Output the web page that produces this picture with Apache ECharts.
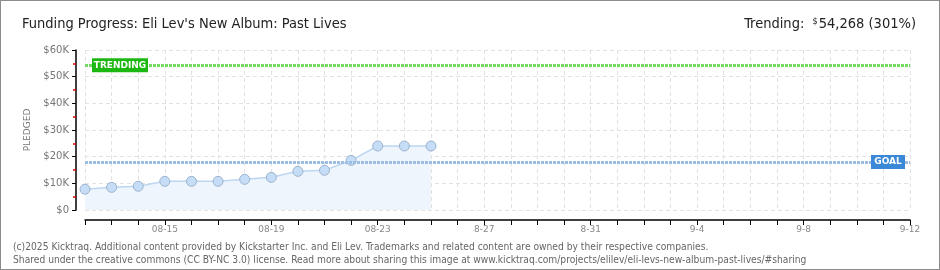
<!DOCTYPE html>
<html>
<head>
<meta charset="utf-8">
<script src="https://cdn.jsdelivr.net/npm/echarts@6/dist/echarts.min.js"></script>
<style>
html,body{margin:0;padding:0;background:#fff;}
#wrap{position:relative;width:940px;height:270px;}
#chart{width:940px;height:270px;}
#frame{position:absolute;left:0;top:0;width:940px;height:270px;box-sizing:border-box;border:1px solid #8c8c8c;pointer-events:none;}
</style>
</head>
<body>
<div id="wrap"><div id="chart"></div><div id="frame"></div></div>
<script>
var categories = ['08-12','08-13','08-14','08-15','08-16','08-17','08-18','08-19','08-20','08-21','08-22','08-23','08-24','08-25','08-26','08-27','08-28','08-29','08-30','08-31','09-01','09-02','09-03','09-04','09-05','09-06','09-07','09-08','09-09','09-10','09-11','09-12'];
var pledged = [7800, 8500, 8900, 10750, 10750, 10750, 11500, 12250, 14500, 14900, 18600, 24000, 24000, 24000];
var tickLabels = {'08-15':'08-15','08-19':'08-19','08-23':'08-23','08-27':'8-27','08-31':'8-31','09-04':'9-4','09-08':'9-8','09-12':'9-12'};
var goal = 18000;
var trending = 54268;

var chart = echarts.init(document.getElementById('chart'));
var FONT = 'DejaVu Sans';
var COND = 'DejaVu Sans Condensed';
chart.setOption({
  animation: false,
  title: [
    {text: "Funding Progress: Eli Lev's New Album: Past Lives", left: 17, top: 12,
     textStyle: {fontFamily: COND, fontSize: 14.5, fontWeight: 'normal', color: '#222'}},
    {text: '{l|Trending:  }{s|$}{l|54,268 (301%)}', right: 19, top: 12,
     textStyle: {fontWeight: 'normal', rich: {
       l: {fontFamily: COND, fontSize: 14.5, fontWeight: 'normal', color: '#222'},
       s: {fontFamily: COND, fontSize: 9, fontWeight: 'normal', color: '#222', verticalAlign: 'top', padding: [0,1,6,0]}
     }}},
    {text: '(c)2025 Kicktraq. Additional content provided by Kickstarter Inc. and Eli Lev. Trademarks and related content are owned by their respective companies.\nShared under the creative commons (CC BY-NC 3.0) license. Read more about sharing this image at www.kicktraq.com/projects/elilev/eli-levs-new-album-past-lives/#sharing',
     left: 8, top: 236,
     textStyle: {fontFamily: COND, fontSize: 10.2, fontWeight: 'normal', color: '#666', lineHeight: 13}}
  ],
  grid: {left: 85, right: 30, top: 50, bottom: 60, containLabel: false},
  xAxis: {
    type: 'category', data: categories, boundaryGap: false, offset: 10,
    axisLine: {onZero: false, lineStyle: {color: '#000', width: 1.5}},
    axisTick: {show: true, interval: 0, length: 5, inside: false, lineStyle: {color: '#000'}},
    axisLabel: {interval: 0, margin: 5, fontFamily: FONT, fontSize: 9, color: '#888',
      formatter: function (v) { return tickLabels[v] || ''; }},
    splitLine: {show: true, interval: 0, lineStyle: {color: '#e2e2e2', type: [4, 3]}}
  },
  yAxis: {
    type: 'value', min: 0, max: 60000, interval: 10000, offset: 9,
    name: 'PLEDGED', nameLocation: 'middle', nameRotate: 90, nameGap: 42,
    nameTextStyle: {fontFamily: FONT, fontSize: 9, color: '#777'},
    axisLine: {show: true, lineStyle: {color: '#000', width: 1.5}},
    axisTick: {show: true, length: 4, lineStyle: {color: '#000'}},
    minorTick: {show: true, splitNumber: 2, length: 3, lineStyle: {color: '#e00000', width: 1.5}},
    axisLabel: {margin: 7, fontFamily: FONT, fontSize: 10, color: '#777',
      formatter: function (v) { return v === 0 ? '$0' : '$' + (v / 1000) + 'K'; }},
    splitLine: {show: true, lineStyle: {color: '#e2e2e2', type: [4, 3]}}
  },
  series: [{
    type: 'line', data: pledged,
    symbol: 'circle', symbolSize: 10,
    lineStyle: {color: '#bcd6f2', width: 1.5},
    itemStyle: {color: '#c6ddf8', borderColor: '#9cb2cc', borderWidth: 1},
    areaStyle: {color: '#eef5fd', opacity: 1},
    markLine: {
      silent: true, symbol: 'none', label: {show: false},
      data: [
        {yAxis: goal, lineStyle: {color: '#9dbde2', width: 3, type: [3, 1]}},
        {yAxis: trending, lineStyle: {color: '#74da63', width: 3, type: [3, 1]}}
      ]
    },
    markPoint: {
      silent: true,
      data: [
        {coord: [categories[categories.length - 1], goal], symbol: 'rect', symbolSize: [34, 14], symbolOffset: [-22, 0],
         itemStyle: {color: '#3a88d6'},
         label: {show: true, formatter: 'GOAL', color: '#fff', fontFamily: FONT, fontSize: 9, fontWeight: 'bold'}},
        {coord: [categories[0], trending], symbol: 'rect', symbolSize: [56, 14], symbolOffset: [35, 0],
         itemStyle: {color: '#1cb811'},
         label: {show: true, formatter: 'TRENDING', color: '#fff', fontFamily: FONT, fontSize: 9, fontWeight: 'bold'}}
      ]
    }
  }]
});
</script>
</body>
</html>
